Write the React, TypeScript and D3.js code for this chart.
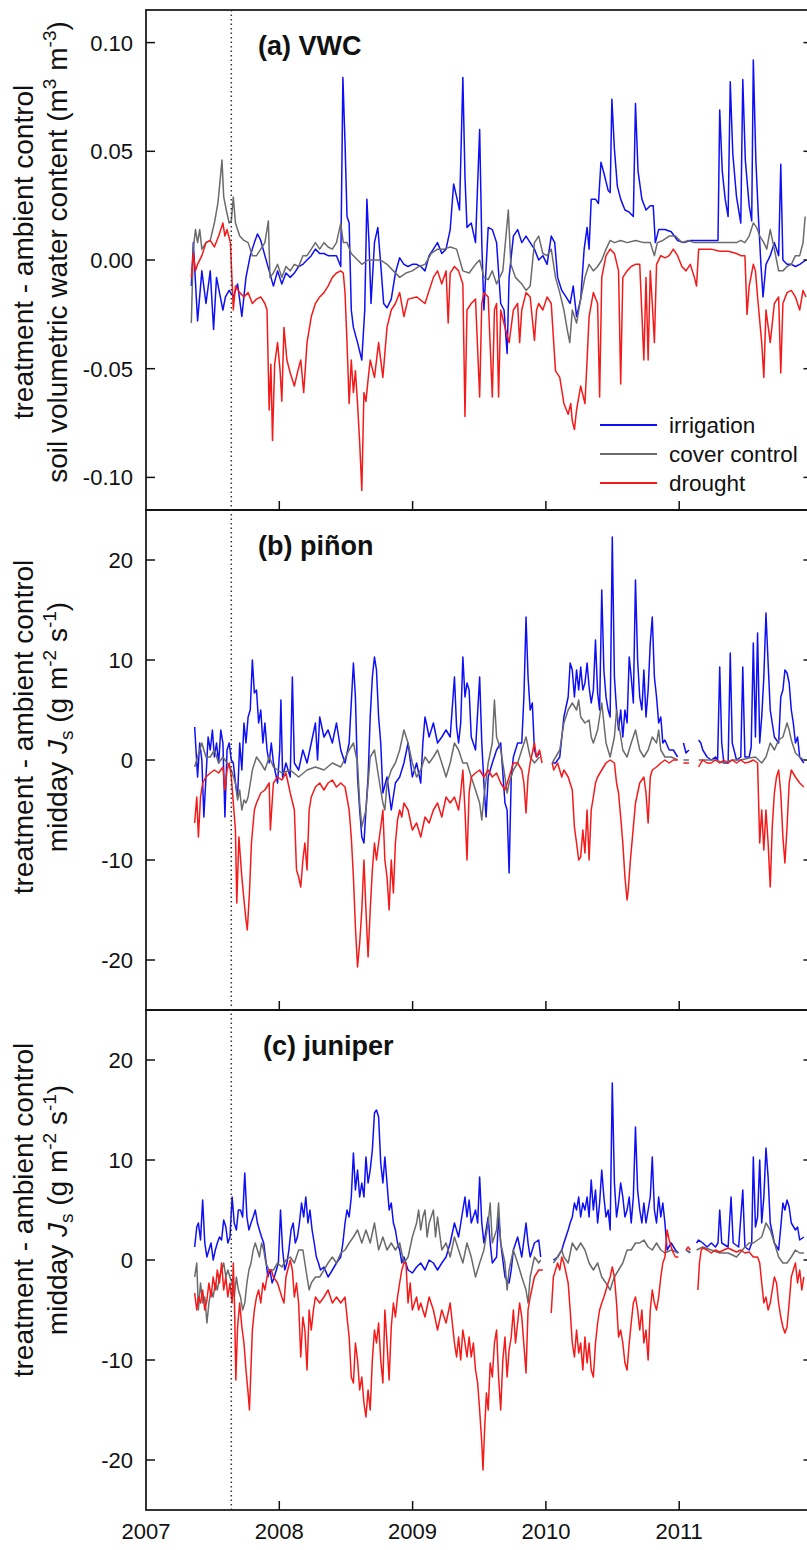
import React from "react";
import * as d3 from "d3";

type Pt = [number, number] | null;

// ---- axes ----
const yearTicks = [2007, 2008, 2009, 2010, 2011];
const xDomain: [number, number] = [2007, 2012];
const treatmentStart = 2007.64;
const vwcDomain: [number, number] = [-0.115, 0.115];
const vwcTicks = [-0.1, -0.05, 0, 0.05, 0.1];
const jsDomain: [number, number] = [-25, 25];
const jsTicks = [-20, -10, 0, 10, 20];
const legendLabels = ["irrigation", "cover control", "drought"];

// ---- (a) soil VWC, treatment minus ambient control (m3 m-3) ----
const vwcIrrigation: Pt[] = [
  [2007.340,-0.012],[2007.355,0.008],[2007.387,-0.028],[2007.419,-0.005],[2007.450,-0.020],[2007.482,-0.005],[2007.507,-0.032],[2007.529,-0.008],[2007.551,-0.015],[2007.577,-0.023],[2007.596,-0.017],[2007.624,-0.014],[2007.655,-0.017],[2007.687,-0.011],[2007.719,-0.026],[2007.750,-0.008],[2007.782,0.002],[2007.813,0.008],[2007.836,0.012],[2007.861,0.009],[2007.892,0.002],[2007.924,-0.005],[2007.956,-0.012],[2007.987,-0.005],
  [2008.019,-0.011],[2008.050,-0.006],[2008.082,-0.008],[2008.113,-0.006],[2008.145,-0.003],[2008.177,-0.002],[2008.208,0],[2008.240,0.002],[2008.271,0.005],[2008.303,0.003],[2008.335,0.003],[2008.366,0.002],[2008.398,0.002],[2008.429,0.002],[2008.461,-0.003],[2008.477,0.084],[2008.493,0.054],[2008.508,0.020],[2008.524,0.017],[2008.540,-0.023],[2008.556,-0.031],[2008.587,-0.038],[2008.619,-0.046],[2008.641,-0.023],[2008.657,0.028],[2008.673,0.008],[2008.688,-0.020],[2008.714,0.008],[2008.739,0.015],[2008.761,-0.002],[2008.783,-0.020],[2008.808,-0.022],[2008.840,-0.018],[2008.871,-0.006],[2008.903,0.001],[2008.935,-0.002],[2008.966,-0.003],[2008.998,-0.002],
  [2009.030,-0.002],[2009.061,-0.003],[2009.093,-0.005],[2009.124,0.002],[2009.156,0.005],[2009.187,0.008],[2009.219,0.003],[2009.251,0.005],[2009.282,0.014],[2009.308,0.035],[2009.330,0.029],[2009.352,0.023],[2009.377,0.084],[2009.393,0.038],[2009.408,0.015],[2009.440,0.017],[2009.472,0.008],[2009.503,0.060],[2009.519,0.008],[2009.535,-0.023],[2009.567,0.015],[2009.598,0.014],[2009.630,0.008],[2009.661,-0.020],[2009.686,-0.023],[2009.709,-0.043],[2009.724,-0.008],[2009.756,0.011],[2009.788,0.014],[2009.819,0.008],[2009.851,0.011],[2009.882,0.008],[2009.914,0.005],[2009.946,0],[2009.977,0.002],
  [2010.009,-0.002],[2010.040,0.011],[2010.066,0.008],[2010.088,-0.008],[2010.119,-0.014],[2010.151,-0.017],[2010.182,-0.020],[2010.205,-0.012],[2010.230,-0.026],[2010.261,-0.018],[2010.287,0.005],[2010.309,0.015],[2010.324,0.005],[2010.340,0.028],[2010.372,0.028],[2010.394,0.026],[2010.413,0.045],[2010.435,0.040],[2010.467,0.032],[2010.482,0.031],[2010.495,0.074],[2010.514,0.051],[2010.536,0.034],[2010.561,0.028],[2010.593,0.023],[2010.625,0.022],[2010.656,0.020],[2010.672,0.072],[2010.691,0.041],[2010.720,0.028],[2010.751,0.023],[2010.783,0.025],[2010.805,0.025],[2010.821,0.008],[2010.846,0.014],[2010.893,0.014],[2010.940,0.013],[2010.988,0.009],
  [2011.035,0.008],[2011.083,0.009],[2011.146,0.009],[2011.209,0.009],[2011.272,0.009],[2011.291,0.009],[2011.304,0.069],[2011.323,0.041],[2011.345,0.028],[2011.367,0.020],[2011.383,0.082],[2011.402,0.049],[2011.430,0.029],[2011.462,0.017],[2011.477,0.083],[2011.496,0.046],[2011.525,0.025],[2011.544,0.018],[2011.556,0.092],[2011.575,0.046],[2011.594,0.020],[2011.613,-0.002],[2011.629,-0.017],[2011.651,-0.002],[2011.683,0.002],[2011.714,0.008],[2011.746,0.002],[2011.762,0.044],[2011.778,0],[2011.809,-0.002],[2011.841,-0.002],[2011.872,-0.003],[2011.904,-0.002],[2011.951,0],
];

const vwcCover: Pt[] = [
  [2007.340,-0.029],[2007.355,0.005],[2007.371,0.014],[2007.387,0.008],[2007.403,0.014],[2007.419,0.005],[2007.450,0.008],[2007.482,0.009],[2007.513,0.017],[2007.539,0.026],[2007.558,0.038],[2007.570,0.046],[2007.583,0.029],[2007.602,0.023],[2007.624,0.017],[2007.640,0.018],[2007.655,0.029],[2007.671,0.017],[2007.703,0.011],[2007.735,0.009],[2007.766,0.008],[2007.798,0.002],[2007.829,0.002],[2007.861,0.005],[2007.892,0.008],[2007.918,0.018],[2007.930,-0.008],[2007.956,-0.006],[2007.987,-0.002],
  [2008.019,-0.008],[2008.050,-0.003],[2008.082,-0.005],[2008.113,-0.002],[2008.145,-0.003],[2008.177,0.002],[2008.208,0.002],[2008.240,0.005],[2008.271,0.008],[2008.303,0.005],[2008.335,0.008],[2008.366,0.006],[2008.398,0.005],[2008.429,0.008],[2008.461,0.017],[2008.480,0.008],[2008.508,0.008],[2008.540,0.003],[2008.571,0.001],[2008.619,-0.002],[2008.666,0],[2008.714,0],[2008.761,0],[2008.808,-0.002],[2008.856,-0.005],[2008.903,-0.008],[2008.950,-0.006],[2008.998,-0.005],
  [2009.045,-0.003],[2009.093,-0.002],[2009.140,0.003],[2009.187,0.005],[2009.235,0.005],[2009.282,0.006],[2009.330,0.005],[2009.377,-0.005],[2009.424,-0.006],[2009.472,-0.002],[2009.503,0],[2009.535,-0.008],[2009.567,-0.009],[2009.598,-0.005],[2009.630,-0.011],[2009.677,-0.005],[2009.718,0.023],[2009.737,-0.002],[2009.772,-0.008],[2009.819,-0.011],[2009.851,-0.014],[2009.882,-0.012],[2009.914,0.008],[2009.946,0.011],[2009.977,0.003],
  [2010.009,0.002],[2010.040,0.005],[2010.072,-0.008],[2010.104,-0.015],[2010.135,-0.023],[2010.160,-0.032],[2010.179,-0.038],[2010.198,-0.023],[2010.230,-0.029],[2010.261,-0.018],[2010.293,-0.008],[2010.324,-0.002],[2010.356,-0.005],[2010.388,-0.003],[2010.419,0],[2010.451,0.005],[2010.482,0.009],[2010.514,0.008],[2010.561,0.009],[2010.609,0.008],[2010.672,0.009],[2010.735,0.008],[2010.783,0.008],[2010.814,0.002],[2010.836,0.008],[2010.877,0.009],[2010.925,0.011],[2010.972,0.011],
  [2011.020,0.008],[2011.067,0.009],[2011.114,0.008],[2011.177,0.008],[2011.241,0.008],[2011.304,0.008],[2011.367,0.008],[2011.430,0.008],[2011.462,0.009],[2011.493,0.008],[2011.525,0.011],[2011.556,0.017],[2011.581,0.015],[2011.604,0.011],[2011.635,0.008],[2011.657,0.005],[2011.683,0.014],[2011.714,0.005],[2011.746,-0.005],[2011.778,-0.005],[2011.809,-0.003],[2011.841,-0.002],[2011.872,0.002],[2011.904,0.002],[2011.929,0.008],[2011.945,0.020],
];

const vwcDrought: Pt[] = [
  [2007.340,-0.008],[2007.355,0.003],[2007.371,-0.005],[2007.387,-0.002],[2007.419,0.002],[2007.450,0.008],[2007.482,0.009],[2007.513,0.006],[2007.545,0.011],[2007.577,0.017],[2007.592,0.011],[2007.608,0.014],[2007.633,0.008],[2007.655,-0.023],[2007.671,-0.012],[2007.703,-0.015],[2007.735,-0.017],[2007.766,-0.015],[2007.798,-0.020],[2007.829,-0.018],[2007.861,-0.017],[2007.892,-0.020],[2007.908,-0.023],[2007.924,-0.069],[2007.937,-0.048],[2007.949,-0.083],[2007.965,-0.048],[2007.987,-0.038],
  [2008.006,-0.051],[2008.019,-0.065],[2008.035,-0.031],[2008.057,-0.046],[2008.082,-0.052],[2008.113,-0.058],[2008.139,-0.051],[2008.161,-0.046],[2008.183,-0.061],[2008.208,-0.038],[2008.240,-0.026],[2008.271,-0.020],[2008.303,-0.017],[2008.335,-0.015],[2008.366,-0.012],[2008.398,-0.008],[2008.429,-0.006],[2008.461,-0.005],[2008.480,-0.006],[2008.493,-0.015],[2008.508,-0.038],[2008.524,-0.066],[2008.540,-0.046],[2008.556,-0.061],[2008.571,-0.051],[2008.587,-0.066],[2008.603,-0.084],[2008.619,-0.106],[2008.635,-0.061],[2008.650,-0.065],[2008.666,-0.055],[2008.682,-0.046],[2008.714,-0.054],[2008.745,-0.038],[2008.777,-0.054],[2008.808,-0.031],[2008.840,-0.023],[2008.871,-0.020],[2008.903,-0.015],[2008.935,-0.026],[2008.966,-0.018],
  [2009.030,-0.017],[2009.093,-0.020],[2009.156,-0.008],[2009.187,-0.005],[2009.219,-0.011],[2009.251,-0.005],[2009.267,-0.029],[2009.282,-0.006],[2009.314,-0.003],[2009.345,-0.005],[2009.377,-0.011],[2009.393,-0.072],[2009.408,-0.023],[2009.440,-0.020],[2009.472,-0.018],[2009.503,-0.063],[2009.519,-0.020],[2009.535,-0.015],[2009.567,-0.017],[2009.598,-0.063],[2009.614,-0.023],[2009.630,-0.020],[2009.645,-0.063],[2009.661,-0.023],[2009.693,-0.031],[2009.724,-0.038],[2009.756,-0.023],[2009.788,-0.020],[2009.803,-0.038],[2009.819,-0.023],[2009.851,-0.015],[2009.882,-0.017],[2009.914,-0.037],[2009.930,-0.023],[2009.946,-0.020],[2009.977,-0.023],
  [2010.009,-0.017],[2010.040,-0.020],[2010.072,-0.051],[2010.104,-0.054],[2010.135,-0.066],[2010.167,-0.071],[2010.186,-0.066],[2010.198,-0.074],[2010.214,-0.078],[2010.230,-0.069],[2010.261,-0.058],[2010.293,-0.066],[2010.309,-0.046],[2010.324,-0.026],[2010.356,-0.015],[2010.388,-0.020],[2010.403,-0.063],[2010.419,-0.008],[2010.451,0.002],[2010.482,0.005],[2010.514,0.003],[2010.545,-0.005],[2010.561,-0.057],[2010.577,-0.008],[2010.609,-0.005],[2010.640,-0.003],[2010.672,-0.002],[2010.704,-0.002],[2010.735,-0.046],[2010.751,-0.008],[2010.767,-0.046],[2010.783,-0.005],[2010.798,-0.020],[2010.814,-0.038],[2010.830,-0.002],[2010.862,0.002],[2010.893,0.001],[2010.925,0.002],[2010.956,0.005],[2010.988,0.002],
  [2011.020,-0.003],[2011.051,-0.005],[2011.083,-0.002],[2011.114,-0.008],[2011.130,-0.012],[2011.146,0.005],[2011.177,0.005],[2011.241,0.005],[2011.304,0.004],[2011.367,0.004],[2011.430,0.003],[2011.462,0.002],[2011.493,0.002],[2011.509,-0.025],[2011.525,-0.012],[2011.556,-0.002],[2011.572,-0.005],[2011.588,-0.017],[2011.619,-0.038],[2011.635,-0.054],[2011.651,-0.023],[2011.683,-0.038],[2011.714,-0.020],[2011.746,-0.017],[2011.762,-0.052],[2011.778,-0.020],[2011.809,-0.015],[2011.841,-0.014],[2011.872,-0.017],[2011.904,-0.023],[2011.929,-0.014],[2011.951,-0.017],
];

// ---- (b) piñon midday Js, treatment minus ambient control (g m-2 s-1) ----
const pinonIrrigation: Pt[] = [
  [2007.365,3.3],[2007.387,-1.7],[2007.403,1.7],[2007.419,0],[2007.434,-5.7],[2007.450,-1.7],[2007.466,2.3],[2007.482,1.0],[2007.498,3.0],[2007.513,0.3],[2007.529,1.7],[2007.545,-0.3],[2007.561,3.0],[2007.577,1.7],[2007.592,-5.7],[2007.608,1.0],[2007.624,1.7],[2007.640,0],[2007.655,-0.3],[2007.671,-2.3],[2007.687,-3.7],[2007.703,1.7],[2007.719,-1.0],[2007.735,3.7],[2007.750,1.7],[2007.766,4.3],[2007.782,5.0],[2007.798,10.0],[2007.813,6.7],[2007.829,7.0],[2007.845,3.7],[2007.861,5.0],[2007.877,1.7],[2007.892,3.7],[2007.908,1.0],[2007.924,-0.3],[2007.940,1.7],[2007.956,-0.3],[2007.987,-2.3],
  [2008.003,1.0],[2008.012,6.0],[2008.025,-1.7],[2008.050,-0.3],[2008.082,-1.7],[2008.098,8.3],[2008.113,-0.3],[2008.145,-1.0],[2008.177,1.0],[2008.208,-0.3],[2008.240,1.7],[2008.271,3.7],[2008.287,0],[2008.303,4.3],[2008.335,2.3],[2008.366,3.0],[2008.398,1.7],[2008.429,3.7],[2008.461,1.0],[2008.493,-0.3],[2008.524,1.7],[2008.540,5.7],[2008.556,9.7],[2008.571,6.3],[2008.587,-1.7],[2008.603,-5.0],[2008.619,-7.7],[2008.635,-8.3],[2008.650,-5.0],[2008.666,-1.7],[2008.682,4.3],[2008.698,8.3],[2008.714,10.3],[2008.729,9.0],[2008.745,4.3],[2008.761,1.7],[2008.777,-3.3],[2008.808,-1.7],[2008.840,-5.0],[2008.871,-2.3],[2008.903,-1.7],[2008.935,-0.3],[2008.966,1.7],[2008.998,-1.7],
  [2009.030,-0.3],[2009.061,-2.3],[2009.077,1.7],[2009.093,4.3],[2009.109,3.3],[2009.124,2.3],[2009.156,3.7],[2009.187,1.7],[2009.219,2.3],[2009.251,3.0],[2009.282,2.3],[2009.314,8.3],[2009.330,3.3],[2009.345,1.7],[2009.361,3.7],[2009.377,10.3],[2009.393,6.3],[2009.408,7.7],[2009.424,7.0],[2009.440,2.3],[2009.472,1.0],[2009.503,8.3],[2009.519,1.7],[2009.535,-2.3],[2009.551,-5.7],[2009.567,-1.7],[2009.598,-0.3],[2009.630,1.0],[2009.661,1.7],[2009.693,-4.3],[2009.709,-5.0],[2009.724,-11.3],[2009.740,-1.7],[2009.756,0.3],[2009.788,1.7],[2009.819,1.7],[2009.835,6.3],[2009.851,14.3],[2009.866,8.3],[2009.882,5.0],[2009.898,5.7],[2009.914,1.0],[2009.930,0.3],[2009.952,0.7],
  null,
  [2010.047,-0.3],[2010.072,-0.3],[2010.104,0.3],[2010.135,4.3],[2010.167,6.3],[2010.182,9.7],[2010.198,9.0],[2010.214,6.3],[2010.230,9.0],[2010.246,7.0],[2010.261,9.3],[2010.277,7.0],[2010.293,7.7],[2010.309,9.7],[2010.324,7.3],[2010.340,5.7],[2010.356,7.0],[2010.372,12.0],[2010.388,6.7],[2010.403,5.0],[2010.419,17.0],[2010.435,9.0],[2010.451,6.3],[2010.467,5.0],[2010.482,4.3],[2010.498,22.3],[2010.514,8.3],[2010.530,5.0],[2010.545,3.0],[2010.561,5.0],[2010.577,2.3],[2010.593,5.0],[2010.609,3.7],[2010.625,10.3],[2010.640,8.3],[2010.656,5.7],[2010.672,18.0],[2010.688,10.0],[2010.704,6.3],[2010.720,5.0],[2010.735,9.0],[2010.751,4.3],[2010.767,7.0],[2010.783,11.7],[2010.798,14.3],[2010.814,8.3],[2010.830,6.3],[2010.846,3.7],[2010.862,4.3],[2010.877,1.7],[2010.893,2.0],[2010.925,1.0],[2010.956,1.0],[2010.988,0.3],
  null,
  [2011.032,1.7],[2011.051,0.7],[2011.073,1.0],
  null,
  [2011.146,2.0],[2011.162,1.7],[2011.177,1.0],[2011.209,0.3],[2011.241,0],[2011.272,0.3],[2011.288,0],[2011.304,9.3],[2011.319,1.7],[2011.335,-0.3],[2011.367,-0.3],[2011.383,10.7],[2011.398,1.7],[2011.430,0],[2011.462,0.3],[2011.477,9.3],[2011.493,0.3],[2011.525,0.3],[2011.540,1.3],[2011.556,11.7],[2011.572,2.3],[2011.588,12.7],[2011.604,1.7],[2011.619,4.3],[2011.635,8.3],[2011.651,14.7],[2011.667,9.7],[2011.683,5.0],[2011.714,2.3],[2011.746,1.7],[2011.762,6.3],[2011.778,7.0],[2011.793,9.0],[2011.809,8.7],[2011.825,7.7],[2011.841,5.0],[2011.856,3.7],[2011.872,1.7],[2011.888,2.3],[2011.904,0.3],[2011.935,-0.3],
];

const pinonCover: Pt[] = [
  [2007.365,-0.7],[2007.387,0.3],[2007.419,1.7],[2007.450,0.3],[2007.482,0.3],[2007.513,1.0],[2007.545,-0.3],[2007.577,0.3],[2007.608,-0.3],[2007.640,-1.0],[2007.671,-2.3],[2007.687,-4.0],[2007.703,-3.0],[2007.719,-5.0],[2007.735,-4.0],[2007.750,-4.3],[2007.766,-3.7],[2007.798,-1.0],[2007.829,0.3],[2007.861,-0.3],[2007.892,-1.0],[2007.924,0.3],[2007.956,-0.7],
  [2008.019,-1.3],[2008.082,-1.0],[2008.145,-1.7],[2008.208,-1.0],[2008.271,-0.7],[2008.335,-1.0],[2008.398,-0.3],[2008.461,-0.7],[2008.524,1.0],[2008.556,1.7],[2008.587,-0.3],[2008.603,-4.3],[2008.619,-6.7],[2008.650,-5.0],[2008.682,0.3],[2008.714,1.0],[2008.745,-1.7],[2008.777,-4.3],[2008.792,-5.0],[2008.808,-2.3],[2008.840,-1.0],[2008.871,-0.3],[2008.903,1.0],[2008.935,3.0],[2008.966,1.7],[2008.998,-0.3],
  [2009.030,-1.7],[2009.061,-1.0],[2009.093,0.3],[2009.124,-0.3],[2009.156,0.3],[2009.187,1.0],[2009.219,-0.3],[2009.251,-1.7],[2009.282,-0.3],[2009.314,1.7],[2009.345,1.0],[2009.377,-0.3],[2009.408,-0.3],[2009.440,-1.7],[2009.472,-3.0],[2009.503,-4.3],[2009.519,-6.0],[2009.535,-3.7],[2009.567,-0.3],[2009.598,1.7],[2009.614,6.0],[2009.630,2.3],[2009.661,1.0],[2009.693,-1.7],[2009.709,-3.3],[2009.724,-2.3],[2009.756,-1.0],[2009.788,-0.3],[2009.819,1.0],[2009.851,2.3],[2009.882,0.3],[2009.914,-0.3],[2009.952,0.3],
  null,
  [2010.047,-0.3],[2010.104,1.0],[2010.135,3.7],[2010.167,5.0],[2010.198,5.7],[2010.230,5.0],[2010.246,6.0],[2010.261,4.3],[2010.293,3.7],[2010.324,4.0],[2010.340,2.3],[2010.356,1.7],[2010.388,3.0],[2010.419,5.7],[2010.451,1.7],[2010.482,0.3],[2010.514,2.3],[2010.530,5.0],[2010.545,3.7],[2010.577,1.0],[2010.609,0.3],[2010.640,1.7],[2010.672,3.0],[2010.704,1.0],[2010.735,0.3],[2010.767,1.0],[2010.798,2.3],[2010.830,1.7],[2010.846,3.0],[2010.862,1.0],[2010.893,0.3],[2010.940,0.3],[2010.988,0],
  null,
  [2011.032,0],[2011.073,0],
  null,
  [2011.146,0],[2011.209,0],[2011.272,0],[2011.335,-0.3],[2011.398,0],[2011.462,0],[2011.525,0.2],[2011.572,0.3],[2011.619,-0.3],[2011.651,0.3],[2011.683,1.7],[2011.714,1.0],[2011.746,2.0],[2011.778,2.3],[2011.809,3.7],[2011.825,3.0],[2011.841,2.0],[2011.872,0.7],[2011.904,0.3],[2011.935,0],
];

const pinonDrought: Pt[] = [
  [2007.365,-6.3],[2007.381,-3.7],[2007.393,-7.7],[2007.409,-3.7],[2007.425,-2.3],[2007.450,-1.7],[2007.482,-1.3],[2007.513,-1.0],[2007.545,-1.3],[2007.577,-0.7],[2007.592,-3.0],[2007.608,-1.0],[2007.624,-0.3],[2007.640,-1.7],[2007.655,-4.3],[2007.671,-7.0],[2007.681,-14.3],[2007.697,-7.7],[2007.719,-11.7],[2007.735,-14.0],[2007.750,-16.0],[2007.760,-17.0],[2007.776,-13.3],[2007.791,-8.3],[2007.813,-5.0],[2007.829,-4.3],[2007.861,-3.3],[2007.892,-3.0],[2007.924,-2.3],[2007.933,-7.0],[2007.946,-4.3],[2007.956,-2.3],[2007.987,-1.7],
  [2008.019,-2.0],[2008.050,-1.3],[2008.082,-3.3],[2008.113,-5.0],[2008.129,-11.0],[2008.145,-11.7],[2008.161,-12.7],[2008.177,-10.0],[2008.192,-8.3],[2008.208,-11.0],[2008.224,-5.0],[2008.240,-3.7],[2008.271,-2.7],[2008.303,-2.3],[2008.335,-3.0],[2008.366,-2.3],[2008.398,-2.0],[2008.429,-2.7],[2008.461,-2.3],[2008.493,-2.7],[2008.524,-5.0],[2008.540,-7.7],[2008.556,-11.7],[2008.571,-16.7],[2008.587,-20.7],[2008.603,-18.3],[2008.619,-15.0],[2008.635,-10.0],[2008.650,-15.0],[2008.666,-19.7],[2008.682,-15.0],[2008.698,-11.0],[2008.714,-8.3],[2008.729,-10.0],[2008.745,-8.3],[2008.761,-6.7],[2008.777,-5.0],[2008.792,-10.0],[2008.808,-11.7],[2008.824,-15.0],[2008.840,-10.0],[2008.856,-13.3],[2008.871,-8.3],[2008.887,-6.0],[2008.903,-5.0],[2008.919,-5.7],[2008.935,-4.3],[2008.966,-5.0],[2008.998,-7.0],
  [2009.030,-6.3],[2009.061,-7.7],[2009.093,-5.7],[2009.124,-6.3],[2009.156,-5.0],[2009.187,-4.3],[2009.219,-5.7],[2009.251,-3.7],[2009.282,-4.3],[2009.314,-3.7],[2009.345,-5.0],[2009.361,-3.3],[2009.377,-1.0],[2009.393,-5.0],[2009.408,-10.0],[2009.424,-3.3],[2009.440,-1.7],[2009.472,-1.3],[2009.503,-1.0],[2009.535,-1.7],[2009.567,-1.0],[2009.598,-1.7],[2009.630,-1.3],[2009.661,-2.3],[2009.693,-3.0],[2009.724,-1.7],[2009.756,-0.3],[2009.788,-0.3],[2009.819,-1.0],[2009.835,-2.3],[2009.851,-5.3],[2009.866,-1.7],[2009.882,-0.3],[2009.914,1.7],[2009.930,0.3],[2009.952,1.0],[2009.971,-0.3],
  null,
  [2010.047,-0.3],[2010.059,-1.0],[2010.088,-0.3],[2010.119,-1.7],[2010.135,-1.0],[2010.167,-1.7],[2010.198,-3.0],[2010.214,-6.7],[2010.230,-8.3],[2010.246,-10.0],[2010.261,-9.7],[2010.277,-7.0],[2010.293,-9.3],[2010.309,-5.0],[2010.324,-10.0],[2010.340,-5.0],[2010.356,-3.7],[2010.372,-2.3],[2010.388,-1.7],[2010.419,-1.0],[2010.451,-0.3],[2010.482,0],[2010.514,-0.3],[2010.530,-2.3],[2010.545,-3.3],[2010.561,-5.7],[2010.577,-8.3],[2010.593,-11.7],[2010.609,-14.0],[2010.618,-13.0],[2010.634,-10.0],[2010.656,-6.7],[2010.672,-4.3],[2010.704,-2.3],[2010.735,-1.7],[2010.751,-3.3],[2010.767,-6.3],[2010.783,-1.7],[2010.798,-1.0],[2010.830,-0.7],[2010.862,-0.3],[2010.893,0],[2010.925,-0.3],[2010.956,0],[2010.988,0],
  null,
  [2011.032,-0.3],[2011.073,-0.3],
  null,
  [2011.146,-0.7],[2011.162,-0.3],[2011.177,0],[2011.209,-0.3],[2011.241,-0.3],[2011.272,0],[2011.304,-0.3],[2011.335,0],[2011.367,-0.3],[2011.398,0],[2011.430,-0.3],[2011.462,0],[2011.493,-0.3],[2011.525,-0.2],[2011.556,0],[2011.588,-0.3],[2011.604,-8.3],[2011.619,-5.0],[2011.635,-9.0],[2011.651,-5.0],[2011.667,-8.3],[2011.683,-12.7],[2011.698,-6.7],[2011.714,-3.3],[2011.730,-1.7],[2011.746,-1.0],[2011.762,-3.3],[2011.778,-7.7],[2011.793,-10.3],[2011.809,-6.7],[2011.825,-2.3],[2011.841,-1.0],[2011.872,-1.7],[2011.888,-2.0],[2011.904,-2.3],[2011.935,-2.7],
];

// ---- (c) juniper midday Js, treatment minus ambient control (g m-2 s-1) ----
const juniperIrrigation: Pt[] = [
  [2007.365,1.3],[2007.381,3.3],[2007.393,3.7],[2007.409,2.0],[2007.425,6.0],[2007.441,1.7],[2007.457,0.3],[2007.472,1.0],[2007.488,1.7],[2007.504,0],[2007.520,1.0],[2007.535,1.7],[2007.551,2.3],[2007.567,2.0],[2007.583,4.0],[2007.599,3.3],[2007.614,1.7],[2007.630,2.3],[2007.646,6.3],[2007.662,3.7],[2007.678,3.0],[2007.693,5.0],[2007.709,5.0],[2007.725,4.3],[2007.741,8.7],[2007.757,4.3],[2007.772,3.0],[2007.788,3.7],[2007.804,4.3],[2007.820,5.0],[2007.836,3.7],[2007.851,3.0],[2007.867,2.3],[2007.883,1.7],[2007.899,0],[2007.914,-1.7],[2007.930,-1.0],[2007.946,-2.3],[2007.962,-1.7],[2007.978,-1.0],[2007.993,-0.3],
  [2008.009,5.0],[2008.025,1.0],[2008.041,-1.0],[2008.057,-0.3],[2008.072,1.0],[2008.088,3.0],[2008.104,3.7],[2008.120,1.7],[2008.136,2.3],[2008.151,3.7],[2008.167,5.7],[2008.183,4.3],[2008.199,6.3],[2008.215,3.7],[2008.230,5.0],[2008.246,3.0],[2008.262,1.7],[2008.278,0.3],[2008.294,-0.3],[2008.309,-1.0],[2008.335,-0.7],[2008.366,-1.7],[2008.398,-1.0],[2008.429,-0.3],[2008.461,0.3],[2008.477,1.7],[2008.493,3.7],[2008.508,5.0],[2008.524,4.3],[2008.540,6.3],[2008.556,10.7],[2008.571,7.0],[2008.587,9.0],[2008.603,6.3],[2008.619,7.7],[2008.635,6.3],[2008.650,10.3],[2008.666,7.7],[2008.682,9.0],[2008.698,11.0],[2008.714,14.7],[2008.729,15.0],[2008.745,14.3],[2008.761,9.7],[2008.777,7.7],[2008.792,10.3],[2008.808,7.7],[2008.824,5.0],[2008.840,5.7],[2008.856,3.7],[2008.871,3.0],[2008.887,1.7],[2008.903,1.0],[2008.919,-0.3],[2008.935,0.3],[2008.966,-1.0],[2008.998,-1.3],
  [2009.030,-0.7],[2009.061,-0.3],[2009.093,-1.0],[2009.124,0],[2009.156,-0.3],[2009.187,-1.0],[2009.219,-0.3],[2009.251,0.3],[2009.282,1.7],[2009.314,3.7],[2009.345,2.3],[2009.377,5.0],[2009.393,6.3],[2009.408,4.3],[2009.424,6.0],[2009.440,3.7],[2009.472,5.0],[2009.488,3.7],[2009.503,8.3],[2009.519,3.7],[2009.535,1.7],[2009.567,4.3],[2009.582,1.7],[2009.598,-0.3],[2009.630,0.3],[2009.645,4.3],[2009.661,1.7],[2009.693,-1.7],[2009.724,-2.3],[2009.740,-1.0],[2009.756,1.0],[2009.788,2.3],[2009.819,0.3],[2009.851,3.7],[2009.866,1.7],[2009.882,0.3],[2009.914,1.7],[2009.946,2.0],[2009.961,0.3],
  null,
  [2010.056,0],[2010.088,0.3],[2010.119,1.0],[2010.135,1.7],[2010.167,3.0],[2010.182,3.7],[2010.198,4.3],[2010.214,5.7],[2010.230,5.0],[2010.246,6.3],[2010.261,4.3],[2010.277,5.7],[2010.293,5.0],[2010.309,6.3],[2010.324,4.3],[2010.340,8.0],[2010.356,5.0],[2010.372,7.0],[2010.388,3.7],[2010.403,5.7],[2010.419,9.0],[2010.435,6.3],[2010.451,4.3],[2010.467,5.0],[2010.482,3.0],[2010.498,17.7],[2010.514,7.7],[2010.530,4.3],[2010.545,5.7],[2010.561,7.7],[2010.577,6.3],[2010.593,4.3],[2010.609,5.0],[2010.625,6.3],[2010.640,3.7],[2010.656,6.3],[2010.672,13.3],[2010.688,7.0],[2010.704,5.0],[2010.720,3.7],[2010.735,5.7],[2010.751,3.7],[2010.767,5.0],[2010.783,6.3],[2010.798,10.3],[2010.814,5.0],[2010.830,3.7],[2010.846,6.3],[2010.862,4.3],[2010.877,5.7],[2010.893,3.7],[2010.909,1.0],[2010.940,1.7],[2010.972,1.0],[2010.994,0.7],
  null,
  [2011.051,1.0],[2011.083,0.7],
  null,
  [2011.130,1.7],[2011.146,2.0],[2011.177,1.7],[2011.209,1.3],[2011.241,1.7],[2011.272,1.3],[2011.291,1.7],[2011.304,5.0],[2011.319,1.7],[2011.367,1.3],[2011.389,6.3],[2011.405,1.7],[2011.446,1.3],[2011.477,7.0],[2011.493,1.3],[2011.525,1.0],[2011.544,1.7],[2011.556,10.3],[2011.572,3.3],[2011.588,4.3],[2011.604,10.0],[2011.619,3.7],[2011.635,6.3],[2011.651,11.2],[2011.667,8.3],[2011.683,3.7],[2011.714,1.7],[2011.746,1.0],[2011.762,3.3],[2011.778,5.7],[2011.793,5.0],[2011.809,6.0],[2011.825,5.3],[2011.841,3.7],[2011.872,3.0],[2011.888,3.3],[2011.904,2.0],[2011.935,2.3],
];

const juniperCover: Pt[] = [
  [2007.365,-1.7],[2007.381,-0.3],[2007.393,-5.0],[2007.409,-2.3],[2007.425,-4.3],[2007.441,-3.7],[2007.457,-6.3],[2007.472,-4.3],[2007.488,-3.0],[2007.504,-3.7],[2007.520,-2.3],[2007.535,-3.0],[2007.551,-1.7],[2007.567,-1.0],[2007.583,-0.3],[2007.599,-1.7],[2007.614,-1.0],[2007.630,-1.7],[2007.646,-2.3],[2007.662,-3.7],[2007.678,-1.7],[2007.693,-3.0],[2007.709,-3.7],[2007.725,-5.0],[2007.741,-4.3],[2007.757,-2.3],[2007.772,-1.0],[2007.788,-0.3],[2007.804,1.0],[2007.820,1.7],[2007.836,1.0],[2007.851,0.3],[2007.867,1.7],[2007.883,1.0],[2007.899,-0.3],[2007.924,-1.0],[2007.956,-1.0],[2007.987,-0.3],
  [2008.019,-0.7],[2008.050,0],[2008.082,0.3],[2008.113,-0.3],[2008.145,1.0],[2008.177,1.0],[2008.208,-1.7],[2008.224,-3.0],[2008.240,-2.3],[2008.271,-1.7],[2008.303,-1.7],[2008.335,-1.0],[2008.366,-0.3],[2008.398,0.3],[2008.429,-0.3],[2008.461,0.7],[2008.493,1.0],[2008.524,1.7],[2008.556,2.3],[2008.587,3.0],[2008.619,1.7],[2008.650,3.0],[2008.682,1.7],[2008.714,3.7],[2008.745,1.0],[2008.777,2.3],[2008.808,1.0],[2008.840,1.7],[2008.871,1.0],[2008.903,1.7],[2008.935,-0.3],[2008.966,0.3],[2008.998,2.3],
  [2009.030,3.7],[2009.045,5.0],[2009.061,3.0],[2009.077,4.3],[2009.093,5.0],[2009.109,2.3],[2009.124,3.7],[2009.156,5.0],[2009.172,2.3],[2009.187,4.3],[2009.219,1.0],[2009.251,1.7],[2009.282,0.3],[2009.314,2.3],[2009.345,1.0],[2009.377,-0.3],[2009.408,1.7],[2009.440,0.3],[2009.472,-1.7],[2009.503,-0.3],[2009.535,1.0],[2009.567,3.7],[2009.582,5.7],[2009.598,1.7],[2009.630,3.0],[2009.645,5.7],[2009.661,1.7],[2009.693,-0.3],[2009.709,-3.0],[2009.724,-1.0],[2009.756,1.0],[2009.788,-0.3],[2009.819,-1.7],[2009.851,-3.0],[2009.866,-4.3],[2009.882,-1.7],[2009.914,0.3],[2009.946,-0.3],[2009.961,0],
  null,
  [2010.056,-0.3],[2010.088,0.3],[2010.119,1.0],[2010.135,0.3],[2010.167,-0.3],[2010.198,1.7],[2010.230,1.0],[2010.261,1.7],[2010.293,1.0],[2010.324,-0.3],[2010.356,-1.0],[2010.388,-0.3],[2010.419,-1.7],[2010.451,-2.3],[2010.482,-3.0],[2010.498,-2.3],[2010.514,-1.7],[2010.545,-1.0],[2010.577,-0.3],[2010.609,1.0],[2010.640,1.0],[2010.672,1.7],[2010.704,1.7],[2010.735,2.0],[2010.767,1.3],[2010.798,1.0],[2010.830,1.7],[2010.862,1.0],[2010.893,0.7],[2010.940,1.0],[2010.994,0.7],
  null,
  [2011.051,1.0],[2011.083,0.8],
  null,
  [2011.130,1.0],[2011.177,1.3],[2011.241,1.0],[2011.304,0.7],[2011.367,0.7],[2011.430,0.3],[2011.493,1.3],[2011.525,1.7],[2011.556,1.7],[2011.588,2.0],[2011.619,2.3],[2011.651,3.7],[2011.683,3.0],[2011.714,1.7],[2011.746,0.3],[2011.778,-0.3],[2011.809,-0.3],[2011.841,0.3],[2011.872,1.0],[2011.904,0.7],[2011.935,0.7],
];

const juniperDrought: Pt[] = [
  [2007.365,-3.3],[2007.381,-5.0],[2007.393,-3.7],[2007.409,-4.3],[2007.425,-3.0],[2007.441,-5.0],[2007.457,-4.0],[2007.472,-2.3],[2007.488,-3.7],[2007.504,-1.7],[2007.520,-3.0],[2007.535,-1.0],[2007.551,-2.3],[2007.567,-0.3],[2007.583,-3.0],[2007.599,-1.7],[2007.614,-3.7],[2007.630,-2.3],[2007.646,-4.3],[2007.655,-0.3],[2007.665,-5.0],[2007.674,-12.0],[2007.687,-6.7],[2007.703,-4.3],[2007.719,-6.7],[2007.735,-8.3],[2007.750,-11.0],[2007.766,-13.3],[2007.776,-15.0],[2007.785,-11.7],[2007.798,-7.0],[2007.813,-5.0],[2007.829,-3.7],[2007.845,-3.0],[2007.861,-4.3],[2007.877,-2.3],[2007.892,-3.0],[2007.908,-1.7],[2007.924,-1.0],[2007.940,-1.0],[2007.956,-1.7],[2007.987,-2.3],
  [2008.019,-3.7],[2008.035,-4.3],[2008.050,-1.7],[2008.082,0],[2008.098,-1.0],[2008.113,-3.7],[2008.129,-2.3],[2008.145,-4.3],[2008.161,-9.7],[2008.177,-5.7],[2008.192,-7.0],[2008.208,-11.0],[2008.224,-5.0],[2008.240,-7.0],[2008.256,-5.0],[2008.271,-3.7],[2008.303,-4.3],[2008.335,-3.7],[2008.366,-3.0],[2008.398,-4.3],[2008.429,-3.7],[2008.461,-4.3],[2008.493,-3.7],[2008.508,-5.7],[2008.524,-7.7],[2008.540,-11.7],[2008.556,-12.3],[2008.571,-8.3],[2008.587,-10.0],[2008.603,-13.0],[2008.619,-11.7],[2008.635,-14.3],[2008.650,-15.7],[2008.666,-13.0],[2008.682,-15.0],[2008.698,-10.0],[2008.714,-7.0],[2008.729,-8.3],[2008.745,-6.3],[2008.761,-10.0],[2008.777,-12.3],[2008.792,-5.0],[2008.808,-8.3],[2008.824,-12.0],[2008.840,-6.7],[2008.856,-4.3],[2008.871,-5.7],[2008.887,-3.7],[2008.903,-2.3],[2008.919,-1.0],[2008.935,-0.3],[2008.950,-0.3],[2008.966,-4.3],[2008.982,-2.3],[2008.998,-5.0],
  [2009.014,-4.3],[2009.030,-3.7],[2009.045,-5.0],[2009.061,-4.3],[2009.093,-5.7],[2009.124,-3.7],[2009.156,-5.0],[2009.187,-7.0],[2009.219,-5.0],[2009.251,-6.3],[2009.282,-4.3],[2009.314,-8.3],[2009.330,-9.7],[2009.345,-7.7],[2009.361,-10.0],[2009.377,-7.0],[2009.393,-8.3],[2009.408,-9.7],[2009.424,-7.7],[2009.440,-9.7],[2009.456,-8.3],[2009.472,-11.0],[2009.488,-12.3],[2009.503,-15.0],[2009.519,-18.3],[2009.528,-21.0],[2009.541,-16.7],[2009.554,-13.3],[2009.567,-15.0],[2009.582,-10.3],[2009.598,-11.7],[2009.614,-8.3],[2009.630,-7.0],[2009.645,-11.7],[2009.661,-15.0],[2009.677,-10.0],[2009.693,-7.7],[2009.709,-11.7],[2009.724,-9.0],[2009.740,-7.7],[2009.756,-5.0],[2009.772,-8.3],[2009.788,-6.3],[2009.803,-4.3],[2009.819,-5.7],[2009.851,-11.3],[2009.866,-5.0],[2009.882,-3.7],[2009.914,-1.7],[2009.946,-1.0],[2009.977,-1.0],
  null,
  [2010.040,-5.3],[2010.056,-1.7],[2010.088,-0.3],[2010.104,-1.0],[2010.119,0.3],[2010.135,-0.3],[2010.167,-2.3],[2010.182,-5.0],[2010.198,-8.3],[2010.214,-9.7],[2010.230,-7.0],[2010.246,-9.3],[2010.261,-8.3],[2010.277,-11.0],[2010.293,-7.7],[2010.309,-10.3],[2010.324,-8.3],[2010.340,-11.0],[2010.356,-11.7],[2010.372,-8.3],[2010.388,-6.3],[2010.403,-5.0],[2010.419,-4.3],[2010.435,-3.7],[2010.451,-3.0],[2010.467,-2.3],[2010.482,-1.7],[2010.498,-0.7],[2010.514,-1.7],[2010.530,-4.3],[2010.545,-7.7],[2010.561,-7.0],[2010.577,-8.3],[2010.593,-10.3],[2010.609,-11.0],[2010.625,-8.3],[2010.640,-6.3],[2010.656,-4.3],[2010.672,-3.7],[2010.688,-5.0],[2010.704,-7.0],[2010.720,-5.0],[2010.735,-8.3],[2010.751,-7.0],[2010.767,-10.0],[2010.783,-5.0],[2010.798,-3.0],[2010.814,-4.3],[2010.830,-5.0],[2010.846,-3.7],[2010.862,-1.7],[2010.877,-0.3],[2010.893,0.3],[2010.909,3.0],[2010.925,2.0],[2010.940,1.3],[2010.956,0.7],[2010.972,0.3],[2010.994,0.3],
  null,
  [2011.051,1.0],[2011.067,1.3],[2011.083,1.0],
  null,
  [2011.140,-3.0],[2011.152,-0.3],[2011.165,1.0],[2011.177,1.2],[2011.209,1.0],[2011.241,0.7],[2011.272,1.0],[2011.304,0.8],[2011.335,1.0],[2011.367,1.2],[2011.398,1.0],[2011.430,0.8],[2011.462,1.0],[2011.493,0.7],[2011.525,0.8],[2011.556,0.3],[2011.588,0.3],[2011.604,-0.3],[2011.619,-2.3],[2011.635,-4.3],[2011.651,-3.7],[2011.667,-5.0],[2011.683,-4.3],[2011.698,-3.0],[2011.714,-1.7],[2011.730,-2.3],[2011.746,-4.3],[2011.762,-5.7],[2011.778,-6.7],[2011.793,-7.3],[2011.809,-6.7],[2011.825,-4.3],[2011.841,-1.7],[2011.856,-1.0],[2011.872,-0.3],[2011.888,-2.3],[2011.904,-1.0],[2011.920,-3.0],[2011.935,-1.7],
];

// ---- layout ----
const W = 807;
const H = 1550;
const LEFT = 146;
const RIGHT = 812.5;
const PANEL_H = 500;
const PANEL_TOPS = [10, 510, 1010];
const TITLE_CENTERS = [252, 727, 1210];
const LABEL_X = [258, 258, 263];
const TICK = 9;
const FONT = "'Liberation Sans', Arial, Helvetica, sans-serif";
const COLORS = { irrigation: "#0f0ff5", cover: "#6b6b6b", drought: "#f51a1a" };

type Panel = {
  key: string;
  label: string;
  domain: [number, number];
  ticks: number[];
  fmt: (v: number) => string;
  series: { data: Pt[]; color: string }[];
  title: "vwc" | "js";
};

const panels: Panel[] = [
  {
    key: "a", label: "(a) VWC", domain: vwcDomain, ticks: vwcTicks, fmt: (v) => v.toFixed(2), title: "vwc",
    series: [
      { data: vwcIrrigation, color: COLORS.irrigation },
      { data: vwcCover, color: COLORS.cover },
      { data: vwcDrought, color: COLORS.drought },
    ],
  },
  {
    key: "b", label: "(b) piñon", domain: jsDomain, ticks: jsTicks, fmt: (v) => String(v), title: "js",
    series: [
      { data: pinonIrrigation, color: COLORS.irrigation },
      { data: pinonCover, color: COLORS.cover },
      { data: pinonDrought, color: COLORS.drought },
    ],
  },
  {
    key: "c", label: "(c) juniper", domain: jsDomain, ticks: jsTicks, fmt: (v) => String(v), title: "js",
    series: [
      { data: juniperIrrigation, color: COLORS.irrigation },
      { data: juniperCover, color: COLORS.cover },
      { data: juniperDrought, color: COLORS.drought },
    ],
  },
];

const x = d3.scaleLinear().domain(xDomain).range([LEFT, RIGHT]);

function YTitle({ kind, cy }: { kind: "vwc" | "js"; cy: number }) {
  const sup = { fontSize: 19 };
  return (
    <g fontFamily={FONT} fontSize={28} fill="#111">
      <text transform={`translate(33,${cy}) rotate(-90)`} textAnchor="middle">
        treatment - ambient control
      </text>
      {kind === "vwc" ? (
        <text transform={`translate(67,${cy}) rotate(-90)`} textAnchor="middle">
          <tspan>soil volumetric water content (m</tspan>
          <tspan dy={-11} {...sup}>3</tspan>
          <tspan dy={11}> m</tspan>
          <tspan dy={-11} {...sup}>-3</tspan>
          <tspan dy={11}>)</tspan>
        </text>
      ) : (
        <text transform={`translate(67,${cy}) rotate(-90)`} textAnchor="middle">
          <tspan>midday </tspan>
          <tspan fontStyle="italic">J</tspan>
          <tspan dy={6} {...sup}>s</tspan>
          <tspan dy={-6}> (g m</tspan>
          <tspan dy={-11} {...sup}>-2</tspan>
          <tspan dy={11}> s</tspan>
          <tspan dy={-11} {...sup}>-1</tspan>
          <tspan dy={11}>)</tspan>
        </text>
      )}
    </g>
  );
}

function PanelView({ p, idx }: { p: Panel; idx: number }) {
  const top = PANEL_TOPS[idx];
  const bottom = top + PANEL_H;
  const y = d3.scaleLinear().domain(p.domain).range([bottom, top]);
  const line = d3
    .line<Pt>()
    .defined((d) => d !== null)
    .x((d) => x((d as [number, number])[0]))
    .y((d) => y((d as [number, number])[1]));
  const clipId = `clip-${p.key}`;
  return (
    <g>
      <defs>
        <clipPath id={clipId}>
          <rect x={LEFT} y={top} width={RIGHT - LEFT} height={PANEL_H} />
        </clipPath>
      </defs>
      <g clipPath={`url(#${clipId})`} fill="none" strokeWidth={1.5} strokeLinejoin="round">
        {p.series.map((s, i) => (
          <path key={i} d={line(s.data) || ""} stroke={s.color} />
        ))}
      </g>
      {/* ticks point inward on every side */}
      <g stroke="#111" strokeWidth={1.5}>
        {p.ticks.map((t) => (
          <g key={t}>
            <line x1={LEFT} x2={LEFT + TICK} y1={y(t)} y2={y(t)} />
            <line x1={RIGHT - TICK} x2={RIGHT} y1={y(t)} y2={y(t)} />
          </g>
        ))}
        {yearTicks.slice(1).map((yr) => (
          <line key={yr} x1={x(yr)} x2={x(yr)} y1={bottom} y2={bottom - TICK} />
        ))}
      </g>
      <g fontFamily={FONT} fontSize={22} fill="#111" textAnchor="end">
        {p.ticks.map((t) => (
          <text key={t} x={LEFT - 13} y={y(t)} dy="0.36em">
            {p.fmt(t)}
          </text>
        ))}
      </g>
      <text x={LABEL_X[idx]} y={top + 45} fontFamily={FONT} fontWeight="bold" fontSize={27} fill="#111">
        {p.label}
      </text>
      <rect x={LEFT} y={top} width={RIGHT - LEFT} height={PANEL_H} fill="none" stroke="#111" strokeWidth={1.7} />
      <YTitle kind={p.title} cy={TITLE_CENTERS[idx]} />
    </g>
  );
}

export default function App() {
  const legendColors = [COLORS.irrigation, COLORS.cover, COLORS.drought];
  return (
    <svg
      width={W}
      height={H}
      viewBox={`0 0 ${W} ${H}`}
      style={{ position: "absolute", left: 0, top: 0, background: "#fff" }}
    >
      <rect x={0} y={0} width={W} height={H} fill="#fff" />
      {panels.map((p, i) => (
        <PanelView key={p.key} p={p} idx={i} />
      ))}
      {/* treatment start */}
      <line
        x1={x(treatmentStart)}
        x2={x(treatmentStart)}
        y1={PANEL_TOPS[0]}
        y2={PANEL_TOPS[2] + PANEL_H}
        stroke="#333"
        strokeWidth={1.5}
        strokeDasharray="1.5,3"
      />
      {/* legend */}
      <g fontFamily={FONT} fontSize={22.5} fill="#111">
        {legendLabels.map((lab, i) => {
          const ly = 425 + i * 29;
          return (
            <g key={lab}>
              <line x1={600} x2={657} y1={ly} y2={ly} stroke={legendColors[i]} strokeWidth={1.8} />
              <text x={669} y={ly} dy="0.36em">
                {lab}
              </text>
            </g>
          );
        })}
      </g>
      {/* x axis labels */}
      <g fontFamily={FONT} fontSize={22} fill="#111" textAnchor="middle">
        {yearTicks.map((yr) => (
          <text key={yr} x={x(yr)} y={1539}>
            {yr}
          </text>
        ))}
      </g>
    </svg>
  );
}
